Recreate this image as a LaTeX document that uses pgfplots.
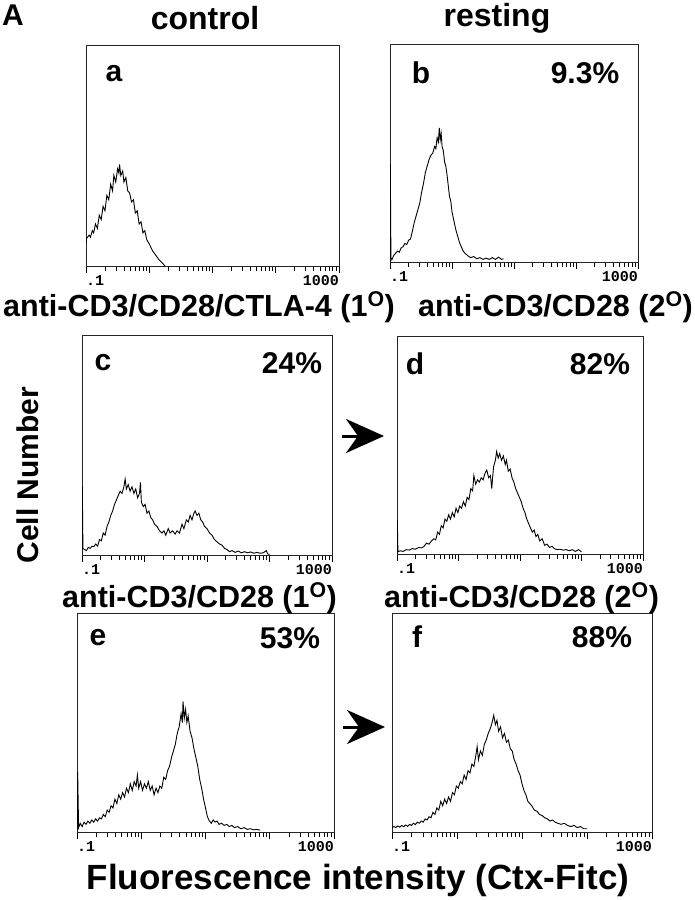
\documentclass[border=0pt]{standalone}
\usepackage{pgfplots}
\pgfplotsset{compat=1.18}
\usepackage{fontspec}
\setmainfont{Liberation Sans}
\newfontfamily\tickfont{Liberation Mono}
\usetikzlibrary{arrows.meta}
\newcommand{\bigf}{\fontsize{30pt}{34pt}\selectfont\bfseries}
\newcommand{\titf}{\fontsize{32pt}{36pt}\selectfont\bfseries}
\newcommand{\labf}{\fontsize{30.5pt}{34pt}\selectfont\bfseries}
\pgfplotsset{
  hist/.style={
    scale only axis, anchor=south west, clip mode=individual,
    xmin=-1, xmax=3, ymin=0, ymax=1,
    xtick={-1,0,1,2,3},
    minor xtick={-0.699,-0.523,-0.398,-0.301,-0.222,-0.155,-0.097,-0.046,
      0.301,0.477,0.602,0.699,0.778,0.845,0.903,0.954,
      1.301,1.477,1.602,1.699,1.778,1.845,1.903,1.954,
      2.301,2.477,2.602,2.699,2.778,2.845,2.903,2.954},
    xticklabels={}, ytick=\empty,
    tick align=outside, xtick pos=lower,
    major tick length=7pt, minor tick length=5pt,
    axis line style={line width=0.9pt, black!85},
    every tick/.style={black, line width=0.9pt},
  },
  hl/.style={black, line width=0.9pt, mark=none},
}
\newcommand{\ticklabs}{%
  \node[anchor=north west, font=\tickfont\bfseries\fontsize{15pt}{16pt}\selectfont, inner sep=0pt] at ([yshift=-9pt]axis cs:-1,0) {.1};
  \node[anchor=north east, font=\tickfont\bfseries\fontsize{15pt}{16pt}\selectfont, inner sep=0pt] at ([yshift=-9pt]axis cs:3,0) {1000};}
\begin{document}
\begin{tikzpicture}
\path[use as bounding box] (0,0) rectangle (695pt,-900pt);
% panel a
\begin{axis}[hist, at={(86pt,-266pt)}, width=253pt, height=221pt]
\addplot[hl] coordinates {(-1.0,0.10) (-0.99,0.125) (-0.95,0.14) (-0.93,0.13) (-0.90,0.16) (-0.88,0.15) (-0.85,0.19) (-0.82,0.17) (-0.79,0.23) (-0.76,0.21) (-0.73,0.27) (-0.70,0.25) (-0.67,0.32) (-0.64,0.30) (-0.61,0.37) (-0.58,0.34) (-0.56,0.41) (-0.53,0.38) (-0.50,0.44) (-0.48,0.42) (-0.47,0.46) (-0.45,0.41) (-0.42,0.43) (-0.40,0.38) (-0.37,0.40) (-0.34,0.34) (-0.31,0.33) (-0.28,0.29) (-0.25,0.30) (-0.22,0.24) (-0.19,0.25) (-0.16,0.19) (-0.13,0.20) (-0.10,0.15) (-0.07,0.16) (-0.04,0.12) (0.00,0.10) (0.05,0.07) (0.10,0.05) (0.15,0.03) (0.20,0.015) (0.25,0.0)};
\ticklabs
\end{axis}
% panel b
\begin{axis}[hist, at={(390pt,-262pt)}, width=248pt, height=218pt]
\addplot[hl] coordinates {(-1.0,0.0) (-0.995,0.45) (-0.985,0.02) (-0.97,0.01) (-0.94,0.03) (-0.91,0.04) (-0.88,0.05) (-0.85,0.045) (-0.82,0.065) (-0.79,0.07) (-0.76,0.085) (-0.73,0.08) (-0.70,0.10) (-0.67,0.105) (-0.64,0.14) (-0.61,0.18) (-0.58,0.21) (-0.55,0.24) (-0.52,0.27) (-0.49,0.32) (-0.46,0.36) (-0.43,0.41) (-0.40,0.44) (-0.37,0.47) (-0.34,0.49) (-0.31,0.50) (-0.28,0.53) (-0.26,0.52) (-0.24,0.57) (-0.22,0.55) (-0.205,0.615) (-0.19,0.56) (-0.175,0.59) (-0.16,0.53) (-0.14,0.51) (-0.12,0.46) (-0.10,0.44) (-0.08,0.40) (-0.06,0.35) (-0.04,0.30) (-0.02,0.28) (0.00,0.23) (0.03,0.19) (0.06,0.15) (0.09,0.12) (0.12,0.09) (0.15,0.07) (0.18,0.05) (0.21,0.04) (0.25,0.03) (0.30,0.02) (0.35,0.025) (0.40,0.015) (0.45,0.02) (0.50,0.012) (0.55,0.018) (0.60,0.012) (0.65,0.02) (0.70,0.012) (0.75,0.022) (0.80,0.012) (0.83,0.015)};
\ticklabs
\end{axis}
% panel c
\begin{axis}[hist, at={(82pt,-555pt)}, width=250pt, height=220pt]
\addplot[hl] coordinates {(-1.0,0.0) (-0.995,0.31) (-0.985,0.03) (-0.96,0.025) (-0.93,0.02) (-0.90,0.035) (-0.87,0.03) (-0.84,0.04) (-0.81,0.038) (-0.78,0.05) (-0.75,0.04) (-0.72,0.07) (-0.69,0.065) (-0.66,0.10) (-0.63,0.09) (-0.60,0.13) (-0.57,0.15) (-0.54,0.18) (-0.51,0.20) (-0.48,0.23) (-0.45,0.25) (-0.42,0.27) (-0.39,0.29) (-0.36,0.28) (-0.33,0.31) (-0.31,0.345) (-0.29,0.30) (-0.26,0.32) (-0.23,0.29) (-0.20,0.31) (-0.17,0.28) (-0.14,0.30) (-0.11,0.26) (-0.08,0.28) (-0.065,0.33) (-0.05,0.24) (-0.02,0.22) (0.01,0.23) (0.04,0.19) (0.07,0.20) (0.10,0.17) (0.13,0.16) (0.16,0.14) (0.20,0.13) (0.24,0.11) (0.28,0.10) (0.31,0.11) (0.34,0.09) (0.38,0.12) (0.41,0.10) (0.45,0.11) (0.49,0.095) (0.52,0.11) (0.56,0.10) (0.60,0.14) (0.63,0.12) (0.67,0.16) (0.70,0.15) (0.73,0.18) (0.76,0.16) (0.79,0.19) (0.81,0.20) (0.84,0.18) (0.87,0.19) (0.90,0.16) (0.93,0.15) (0.96,0.13) (1.00,0.12) (1.04,0.10) (1.08,0.09) (1.12,0.07) (1.16,0.06) (1.20,0.05) (1.24,0.045) (1.28,0.03) (1.32,0.025) (1.36,0.015) (1.40,0.02) (1.45,0.012) (1.50,0.018) (1.55,0.01) (1.60,0.015) (1.65,0.01) (1.70,0.014) (1.75,0.008) (1.80,0.012) (1.85,0.008) (1.90,0.01) (1.95,0.02) (1.97,0.005) (2.00,0.003)};
\ticklabs
\end{axis}
% panel d
\begin{axis}[hist, at={(397pt,-554pt)}, width=246pt, height=218pt]
\addplot[hl] coordinates {(-1.0,0.0) (-0.995,0.156) (-0.985,0.01) (-0.95,0.015) (-0.90,0.012) (-0.85,0.02) (-0.80,0.018) (-0.75,0.025) (-0.70,0.022) (-0.65,0.03) (-0.60,0.028) (-0.56,0.035) (-0.52,0.05) (-0.48,0.045) (-0.44,0.06) (-0.40,0.07) (-0.37,0.065) (-0.34,0.10) (-0.31,0.09) (-0.28,0.13) (-0.25,0.12) (-0.22,0.16) (-0.19,0.15) (-0.16,0.18) (-0.13,0.16) (-0.10,0.19) (-0.07,0.17) (-0.04,0.21) (-0.01,0.19) (0.02,0.22) (0.05,0.21) (0.08,0.24) (0.11,0.22) (0.14,0.26) (0.17,0.25) (0.20,0.30) (0.23,0.29) (0.25,0.36) (0.28,0.32) (0.31,0.34) (0.34,0.33) (0.37,0.35) (0.40,0.34) (0.43,0.37) (0.46,0.385) (0.49,0.35) (0.52,0.36) (0.54,0.30) (0.57,0.40) (0.60,0.43) (0.62,0.47) (0.645,0.44) (0.67,0.46) (0.70,0.43) (0.73,0.45) (0.76,0.41) (0.78,0.43) (0.81,0.38) (0.84,0.39) (0.87,0.35) (0.90,0.33) (0.93,0.30) (0.96,0.28) (0.99,0.26) (1.02,0.24) (1.05,0.21) (1.08,0.19) (1.11,0.16) (1.14,0.14) (1.17,0.12) (1.20,0.10) (1.23,0.11) (1.26,0.08) (1.29,0.09) (1.32,0.06) (1.36,0.07) (1.40,0.04) (1.44,0.045) (1.48,0.03) (1.52,0.035) (1.56,0.025) (1.60,0.02) (1.65,0.022) (1.70,0.018) (1.75,0.02) (1.80,0.015) (1.85,0.02) (1.90,0.012) (1.95,0.02) (2.00,0.01)};
\ticklabs
\end{axis}
% panel e
\begin{axis}[hist, at={(77pt,-832pt)}, width=257pt, height=219pt]
\addplot[hl] coordinates {(-1.0,0.0) (-0.99,0.276) (-0.975,0.02) (-0.95,0.04) (-0.92,0.025) (-0.89,0.045) (-0.86,0.035) (-0.83,0.05) (-0.80,0.04) (-0.77,0.055) (-0.74,0.045) (-0.71,0.06) (-0.68,0.05) (-0.65,0.065) (-0.62,0.06) (-0.59,0.08) (-0.56,0.07) (-0.53,0.10) (-0.50,0.09) (-0.47,0.12) (-0.44,0.11) (-0.41,0.15) (-0.38,0.13) (-0.35,0.17) (-0.32,0.15) (-0.29,0.18) (-0.26,0.16) (-0.23,0.20) (-0.20,0.18) (-0.17,0.22) (-0.14,0.19) (-0.11,0.23) (-0.08,0.21) (-0.06,0.26) (-0.04,0.20) (-0.01,0.23) (0.02,0.19) (0.05,0.22) (0.08,0.20) (0.11,0.23) (0.14,0.19) (0.17,0.21) (0.20,0.17) (0.23,0.20) (0.26,0.18) (0.29,0.21) (0.32,0.20) (0.35,0.25) (0.38,0.24) (0.41,0.28) (0.44,0.30) (0.47,0.34) (0.50,0.37) (0.53,0.40) (0.56,0.45) (0.59,0.48) (0.62,0.54) (0.64,0.50) (0.65,0.596) (0.67,0.52) (0.69,0.56) (0.71,0.50) (0.73,0.53) (0.76,0.46) (0.79,0.43) (0.82,0.38) (0.85,0.34) (0.88,0.30) (0.91,0.24) (0.94,0.20) (0.97,0.15) (1.00,0.11) (1.03,0.07) (1.06,0.05) (1.09,0.04) (1.12,0.055) (1.15,0.045) (1.18,0.05) (1.21,0.035) (1.25,0.04) (1.29,0.03) (1.33,0.035) (1.37,0.025) (1.41,0.03) (1.45,0.02) (1.50,0.025) (1.55,0.015) (1.60,0.02) (1.65,0.012) (1.70,0.015) (1.75,0.01) (1.80,0.012) (1.85,0.008)};
\ticklabs
\end{axis}
% panel f
\begin{axis}[hist, at={(392pt,-832pt)}, width=260pt, height=219pt]
\addplot[hl] coordinates {(-1.0,0.02) (-0.97,0.025) (-0.94,0.02) (-0.91,0.028) (-0.88,0.022) (-0.85,0.03) (-0.82,0.024) (-0.79,0.032) (-0.76,0.026) (-0.73,0.035) (-0.70,0.03) (-0.67,0.04) (-0.64,0.034) (-0.61,0.045) (-0.58,0.04) (-0.55,0.05) (-0.52,0.045) (-0.49,0.06) (-0.46,0.055) (-0.43,0.07) (-0.40,0.065) (-0.37,0.09) (-0.34,0.08) (-0.31,0.11) (-0.28,0.10) (-0.25,0.14) (-0.22,0.12) (-0.19,0.15) (-0.16,0.13) (-0.13,0.16) (-0.10,0.14) (-0.07,0.18) (-0.04,0.17) (-0.01,0.21) (0.02,0.20) (0.05,0.23) (0.08,0.22) (0.11,0.26) (0.14,0.24) (0.17,0.28) (0.20,0.27) (0.23,0.31) (0.26,0.30) (0.29,0.35) (0.31,0.39) (0.33,0.33) (0.36,0.37) (0.39,0.35) (0.42,0.40) (0.45,0.42) (0.48,0.45) (0.51,0.47) (0.54,0.50) (0.565,0.533) (0.59,0.49) (0.615,0.51) (0.64,0.46) (0.67,0.48) (0.70,0.43) (0.73,0.45) (0.76,0.41) (0.79,0.42) (0.82,0.38) (0.85,0.37) (0.88,0.33) (0.91,0.31) (0.94,0.28) (0.97,0.26) (1.00,0.22) (1.03,0.19) (1.06,0.17) (1.09,0.14) (1.12,0.13) (1.15,0.12) (1.19,0.10) (1.23,0.095) (1.27,0.08) (1.31,0.075) (1.35,0.065) (1.39,0.06) (1.43,0.05) (1.47,0.055) (1.51,0.045) (1.55,0.04) (1.60,0.035) (1.65,0.04) (1.70,0.03) (1.75,0.025) (1.80,0.03) (1.85,0.02) (1.90,0.025) (1.95,0.015) (2.00,0.015)};
\ticklabs
\end{axis}
% texts
\node[font=\bigf] at (13pt,-15pt) {A};
\node[font=\titf] at (205pt,-18pt) {control};
\node[font=\titf] at (497pt,-18pt) {resting};
\node[font=\bigf] at (114pt,-74pt) {a};
\node[font=\bigf] at (421pt,-73pt) {b};
\node[font=\bigf] at (585pt,-73pt) {9.3\%};
\node[font=\bigf] at (103pt,-363pt) {c};
\node[font=\bigf] at (292pt,-363pt) {24\%};
\node[font=\bigf] at (415pt,-364pt) {d};
\node[font=\bigf] at (600pt,-364pt) {82\%};
\node[font=\bigf] at (98pt,-638pt) {e};
\node[font=\bigf] at (290pt,-638pt) {53\%};
\node[font=\bigf] at (417pt,-637pt) {f};
\node[font=\bigf] at (602pt,-637pt) {88\%};
\node[font=\labf, anchor=base west, inner sep=0pt] at (3pt,-316pt) {anti-CD3/CD28/CTLA-4 (1\textsuperscript{O})};
\node[font=\labf, anchor=base east, inner sep=0pt] at (693pt,-316pt) {anti-CD3/CD28 (2\textsuperscript{O})};
\node[font=\labf, anchor=base west, inner sep=0pt] at (62pt,-607pt) {anti-CD3/CD28 (1\textsuperscript{O})};
\node[font=\labf, anchor=base west, inner sep=0pt] at (384pt,-607pt) {anti-CD3/CD28 (2\textsuperscript{O})};
\node[font=\bigf, rotate=90] at (28pt,-475pt) {Cell Number};
\node[font=\fontsize{35pt}{40pt}\selectfont\bfseries] at (358pt,-880pt) {Fluorescence intensity (Ctx-Fitc)};
\draw[line width=3pt, -{Stealth[length=38pt,width=34pt,inset=12pt]}] (342pt,-436pt) -- (384pt,-436pt);
\draw[line width=3pt, -{Stealth[length=38pt,width=34pt,inset=12pt]}] (343pt,-727pt) -- (385pt,-727pt);
\end{tikzpicture}
\end{document}
